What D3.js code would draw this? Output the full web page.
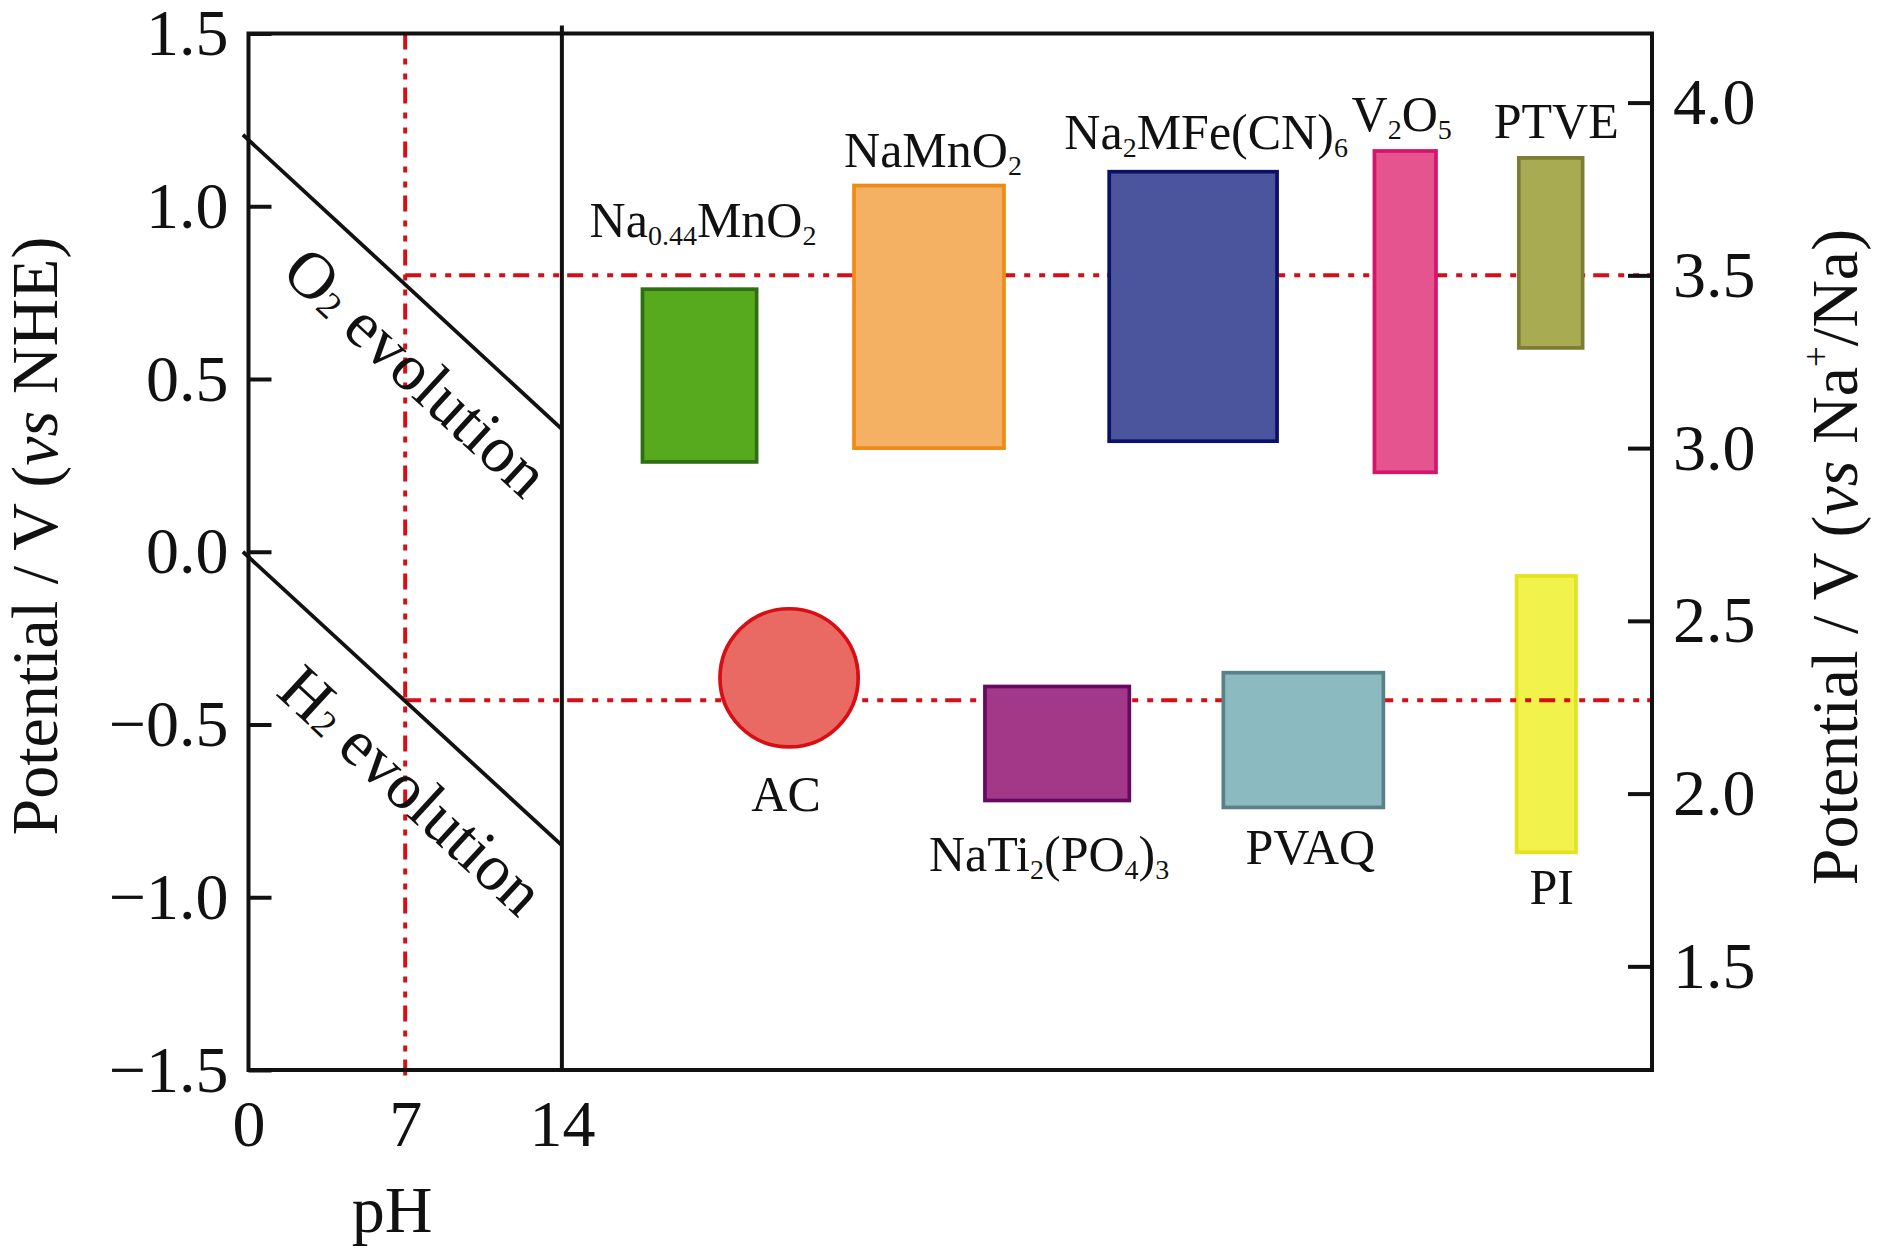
<!DOCTYPE html>
<html>
<head>
<meta charset="utf-8">
<script src="https://cdn.jsdelivr.net/npm/d3@7"></script>
<style>
  body { margin: 0; background: #fff; }
  text { font-family: 'Liberation Serif', 'Times New Roman', serif; fill: #111; }
</style>
</head>
<body>
<div class="chart"></div>
<script>
//data (potentials in V vs Na+/Na, x in pH-axis units)
const materials = ['Na_{0.44}MnO_{2}', 'NaMnO_{2}', 'Na_{2}MFe(CN)_{6}', 'V_{2}O_{5}', 'PTVE',
                   'NaTi_{2}(PO_{4})_{3}', 'PVAQ', 'PI'];
const potLow  = [2.96, 3.00, 3.02, 2.93, 3.29, 1.98, 1.96, 1.83];
const potHigh = [3.46, 3.76, 3.80, 3.86, 3.84, 2.31, 2.35, 2.63];
const slotStart = [17.6, 27.05, 38.45, 50.3, 56.75, 32.9, 43.55, 56.65];
const slotEnd   = [22.7, 33.75, 45.95, 53.05, 59.6, 39.35, 50.7, 59.3];

// activated carbon drawn as a circle
const acLabel = 'AC';
const acSlot = 24.15;
const acPot = 2.335;
const acHalfRange = 0.2;

const phTicks = [0, 7, 14];
const nheTicks = [-1.5, -1.0, -0.5, 0.0, 0.5, 1.0, 1.5];
const naTicks = [1.5, 2.0, 2.5, 3.0, 3.5, 4.0];
const naOffset = 2.7;          // V vs Na+/Na = V vs NHE + 2.7

const o2Line = [{ ph: -0.25, v: 1.207 }, { ph: 14, v: 0.355 }];
const h2Line = [{ ph: -0.25, v: 0.0 }, { ph: 14, v: -0.85 }];
const neutralPH = 7;
const guideLevels = [3.5, 2.27];   // vs Na+/Na

//styles
const fills   = ['#57a91e', '#f4b063', '#4b559d', '#e5548e', '#a8ab51', '#a33888', '#8cbac1', '#f2f24d'];
const strokes = ['#2f6f14', '#ef8a17', '#0b1166', '#d6146a', '#7e7b35', '#660a61', '#5a8088', '#e3e320'];
const labelDx = [3.5, 4, 13, -3.5, 5.5, -8, 7, 5.5];
const labelDy = [-52, -19, -23, -20, -20, 70, 57, 52];
const underGuide = ['PI'];
const red = '#d40f16';
const ink = '#111';

//helpers
// "_{}" subscript, "^{}" superscript, "*{}" italic
const richText = (sel, str, size) => {
    const parts = str.split(/([_^*]\{[^}]*\})/).filter(s => s.length);
    let shift = 0;
    parts.forEach(p => {
        let t = p, target = 0, small = false, ital = false;
        if (p[0] === '_') { t = p.slice(2, -1); target = 0.16 * size; small = true; }
        else if (p[0] === '^') { t = p.slice(2, -1); target = -0.42 * size; small = true; }
        else if (p[0] === '*') { t = p.slice(2, -1); ital = true; }
        const ts = sel.append('tspan').text(t);
        if (target - shift !== 0) ts.attr('dy', target - shift);
        shift = target;
        if (small) ts.style('font-size', (size * 0.56) + 'px');
        if (ital) ts.style('font-style', 'italic');
    });
};

//chart
const width = 1878;
const height = 1254;
const plot = { left: 248.5, right: 1652, top: 33.5, bottom: 1070 };

const x = d3.scaleLinear().domain([0, 62.7]).range([plot.left, plot.right]);
const y = d3.scaleLinear().domain([-1.5, 1.5]).range([plot.bottom, plot.top]);
const yNa = d3.scaleLinear().domain([-1.5 + naOffset, 1.5 + naOffset]).range([plot.bottom, plot.top]);

const svg = d3.select('.chart')
    .append('svg')
    .attr('width', width)
    .attr('height', height)
    .style('background', '#fff');

const rows = materials.map((m, i) => ({
    name: m, low: potLow[i], high: potHigh[i], x0: slotStart[i], x1: slotEnd[i],
    fill: fills[i], stroke: strokes[i], dx: labelDx[i], dy: labelDy[i],
    upper: potLow[i] > 2.7
}));

const drawBoxes = (g, data) => {
    g.selectAll('rect')
        .data(data)
        .enter()
        .append('rect')
        .attr('x', d => x(d.x0))
        .attr('y', d => yNa(d.high))
        .attr('width', d => x(d.x1) - x(d.x0))
        .attr('height', d => yNa(d.low) - yNa(d.high))
        .style('fill', d => d.fill)
        .style('stroke', d => d.stroke)
        .style('stroke-width', 3.7);
};

// boxes that sit under the guide lines
drawBoxes(svg.append('g'), rows.filter(d => underGuide.includes(d.name)));

// guide lines at pH 7
const guides = svg.append('g')
    .style('stroke', red)
    .style('stroke-width', 4)
    .style('fill', 'none')
    .style('stroke-dasharray', '16,9,6,9,6,8');

guides.append('line')
    .attr('x1', x(neutralPH)).attr('x2', x(neutralPH))
    .attr('y1', plot.top).attr('y2', plot.bottom + 7);

guides.selectAll('.guide-h')
    .data(guideLevels)
    .enter()
    .append('line')
    .attr('x1', x(neutralPH))
    .attr('x2', plot.right)
    .attr('y1', d => yNa(d))
    .attr('y2', d => yNa(d));

// other boxes
drawBoxes(svg.append('g'), rows.filter(d => !underGuide.includes(d.name)));

// AC circle
svg.append('ellipse')
    .attr('cx', x(acSlot))
    .attr('cy', yNa(acPot))
    .attr('rx', yNa(acPot - acHalfRange) - yNa(acPot))
    .attr('ry', yNa(acPot - acHalfRange) - yNa(acPot))
    .style('fill', '#e96a62')
    .style('stroke', '#d80e15')
    .style('stroke-width', 3.7);

// material labels
const labelSize = 50;
rows.forEach(d => {
    const t = svg.append('text')
        .attr('x', x((d.x0 + d.x1) / 2) + d.dx)
        .attr('y', (d.upper ? yNa(d.high) : yNa(d.low)) + d.dy)
        .attr('text-anchor', 'middle')
        .style('font-size', labelSize + 'px');
    richText(t, d.name, labelSize);
});
svg.append('text')
    .attr('x', x(acSlot) - 3)
    .attr('y', yNa(acPot - acHalfRange) + 64)
    .attr('text-anchor', 'middle')
    .style('font-size', labelSize + 'px')
    .text(acLabel);

// water stability lines
const line = d3.line().x(d => x(d.ph)).y(d => y(d.v));
[o2Line, h2Line].forEach(l => {
    svg.append('path')
        .attr('d', line(l))
        .style('fill', 'none')
        .style('stroke', ink)
        .style('stroke-width', 3.8);
});

const evoLabels = [
    { text: 'O_{2} evolution', ph: 7.53, v: 0.523, ref: o2Line },
    { text: 'H_{2} evolution', ph: 7.31, v: -0.688, ref: h2Line }
];
const evoSize = 66;
evoLabels.forEach(e => {
    const a = e.ref[0], b = e.ref[1];
    const ang = Math.atan2(y(b.v) - y(a.v), x(b.ph) - x(a.ph)) * 180 / Math.PI;
    const t = svg.append('text')
        .attr('transform', `translate(${x(e.ph)},${y(e.v)}) rotate(${ang})`)
        .attr('text-anchor', 'middle')
        .attr('dominant-baseline', 'central')
        .style('font-size', evoSize + 'px');
    richText(t, e.text, evoSize);
});

// pH 14 divider
svg.append('line')
    .attr('x1', x(14)).attr('x2', x(14))
    .attr('y1', plot.top - 8).attr('y2', plot.bottom)
    .style('stroke', ink)
    .style('stroke-width', 4);

// frame
svg.append('rect')
    .attr('x', plot.left).attr('y', plot.top)
    .attr('width', plot.right - plot.left)
    .attr('height', plot.bottom - plot.top)
    .style('fill', 'none')
    .style('stroke', ink)
    .style('stroke-width', 4);

// axes
const tickSize = 66;
const styleAxis = g => {
    g.select('.domain').remove();
    g.selectAll('line').style('stroke', ink).style('stroke-width', 4);
    g.selectAll('text')
        .style('font-family', "'Liberation Serif', 'Times New Roman', serif")
        .style('font-size', tickSize + 'px')
        .style('fill', ink);
};

svg.append('g')
    .attr('transform', `translate(${plot.left},0)`)
    .call(d3.axisLeft(y).tickValues(nheTicks).tickSize(-23).tickPadding(20).tickFormat(d3.format('.1f')))
    .call(styleAxis);

svg.append('g')
    .attr('transform', `translate(${plot.right},0)`)
    .call(d3.axisRight(yNa).tickValues(naTicks).tickSize(-24).tickPadding(21).tickFormat(d3.format('.1f')))
    .call(styleAxis);

svg.append('g')
    .attr('transform', `translate(0,${plot.bottom})`)
    .call(d3.axisBottom(x).tickValues(phTicks).tickSize(0).tickPadding(29).tickFormat(d3.format('d')))
    .call(styleAxis);

// axis titles
const titleSize = 66;
svg.append('text')
    .attr('x', x(7) - 13)
    .attr('y', 1232)
    .attr('text-anchor', 'middle')
    .style('font-size', titleSize + 'px')
    .text('pH');

const leftTitle = svg.append('text')
    .attr('transform', 'translate(57,536) rotate(-90)')
    .attr('text-anchor', 'middle')
    .style('font-size', titleSize + 'px');
richText(leftTitle, 'Potential / V (*{vs} NHE)', titleSize);

const rightTitle = svg.append('text')
    .attr('transform', 'translate(1857,557) rotate(-90)')
    .attr('text-anchor', 'middle')
    .style('font-size', titleSize + 'px');
richText(rightTitle, 'Potential / V (*{vs} Na^{+}/Na)', titleSize);
</script>
</body>
</html>
